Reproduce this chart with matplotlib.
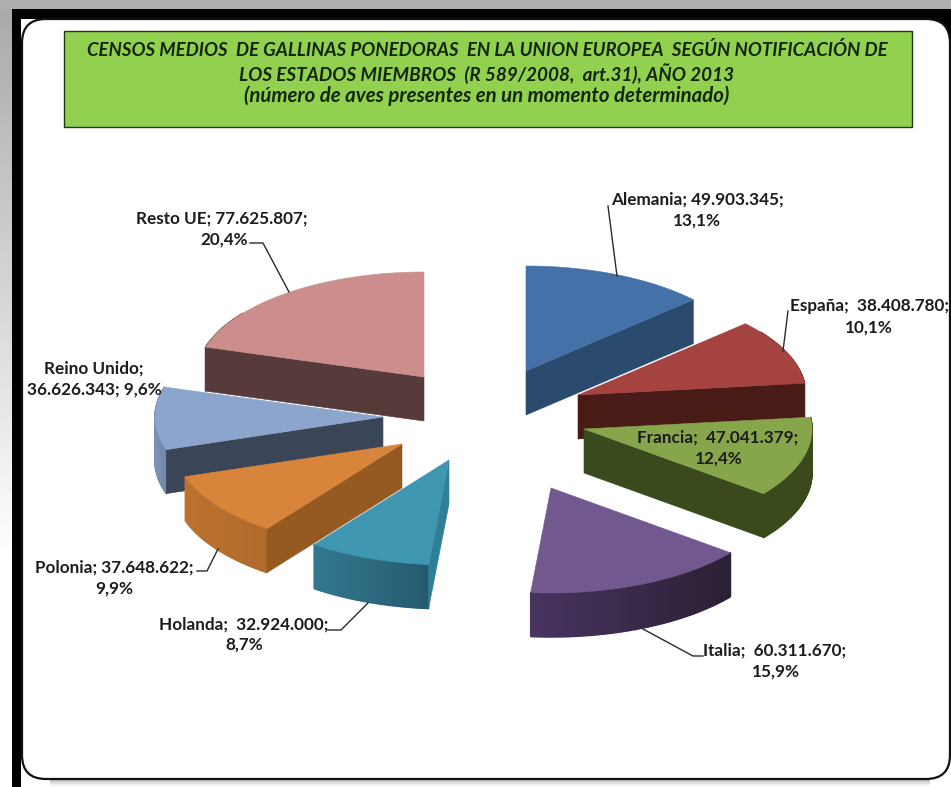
import numpy as np
import matplotlib
matplotlib.use("Agg")
import matplotlib.pyplot as plt
from matplotlib.patches import Polygon, Rectangle, FancyBboxPatch
from matplotlib.collections import PolyCollection
from matplotlib.colors import to_rgb

# ---- data ----
countries = ["Alemania", "España", "Francia", "Italia", "Holanda", "Polonia", "Reino Unido", "Resto UE"]
values = [49903345, 38408780, 47041379, 60311670, 32924000, 37648622, 36626343, 77625807]
pct_labels = ["13,1%", "10,1%", "12,4%", "15,9%", "8,7%", "9,9%", "9,6%", "20,4%"]
value_labels = ["49.903.345", "38.408.780", "47.041.379", "60.311.670", "32.924.000", "37.648.622", "36.626.343", "77.625.807"]
title_lines = [
    "CENSOS MEDIOS  DE GALLINAS PONEDORAS  EN LA UNION EUROPEA  SEGÚN NOTIFICACIÓN DE",
    "LOS ESTADOS MIEMBROS  (R 589/2008,  art.31), AÑO 2013",
    "(número de aves presentes en un momento determinado)",
]
# ---- style ----
top_colors = ["#4472A8", "#A54341", "#87A64B", "#71588F", "#3F96B0", "#D9843B", "#8CA5CD", "#CC8E8C"]
face_colors = ["#2A4A6E", "#481B17", "#3A4A1C", "#2E2239", "#2F7F97", "#955A22", "#3B4558", "#573A3A"]
wall_left = ["#2A4A6E", "#7A2A28", "#3A4A1C", "#47345F", "#33788F", "#BC7230", "#7B93B8", "#573A3A"]
wall_right = ["#2A4A6E", "#7A2A28", "#3A4A1C", "#2B2035", "#255A6E", "#B06A2C", "#6F86A9", "#573A3A"]
apex = [(526, 371), (578, 395), (584, 429), (551, 488), (449, 460), (402, 444), (383, 417), (424, 377)]
draw_order = [7, 0, 1, 2, 6, 5, 4, 3]
RX, RY, DEPTH = 228, 105, 44

fig = plt.figure(figsize=(9.51, 7.87), dpi=100)
ax = fig.add_axes([0, 0, 1, 1])
ax.axis("off")

# page background
ax.add_patch(Rectangle((0, 0), 951, 787, fc="white", ec="none", zorder=0))
grad = np.linspace(0, 1, 256)[:, None]
ax.imshow(0.66 + 0.34 * np.clip(grad * 1.4, 0, 1), extent=(0, 12, 787, 0), cmap="gray", vmin=0, vmax=1,
          aspect="auto", zorder=0.5)
ax.set_xlim(0, 951)
ax.set_ylim(787, 0)
ax.add_patch(Rectangle((0, 0), 951, 9, fc="#AFAFAF", ec="none", zorder=1))
ax.add_patch(Rectangle((12, 9), 939, 9.5, fc="black", ec="none", zorder=1))
ax.add_patch(Rectangle((12, 9), 9, 778, fc="black", ec="none", zorder=1))
ax.add_patch(Rectangle((925, 9), 26, 30, fc="black", ec="none", zorder=1))

# card with soft shadow
for a, dy in zip([0.05, 0.07, 0.10], [6, 4, 2]):
    ax.add_patch(Rectangle((50, 770), 880, 10 + dy, fc="black", alpha=a, ec="none", zorder=1.5))
ax.add_patch(FancyBboxPatch((22, 19), 928, 760, boxstyle="round,pad=0,rounding_size=24",
                            fc="white", ec="#111111", lw=1.6, zorder=2))

# title box
ax.add_patch(Rectangle((63.5, 30.5), 848, 96, fc="#92D04F", ec="#1F3A10", lw=1.0, zorder=3))
for txt, y, fs in zip(title_lines, [50, 73.5, 96], [13.45, 13.6, 14.7]):
    ax.text(487, y, txt, ha="center", va="center", family="Lato", weight="bold", style="italic",
            fontsize=fs, color="#14260C", zorder=4)


def ell(cx, cy, ang):
    return cx + RX * np.sin(ang), cy - RY * np.cos(ang)


fractions = np.array(values) / sum(values)
edges = np.concatenate([[0], np.cumsum(fractions)]) * 2 * np.pi

for i in draw_order:
    cx, cy = apex[i]
    a0, a1 = edges[i], edges[i + 1]
    zo = 5 + draw_order.index(i)
    ts = np.linspace(a0, a1, 61)
    xs, ys = ell(cx, cy, ts)
    # outer wall as shaded strips (the back of the rim is hidden anyway)
    verts, cols = [], []
    c0, c1 = np.array(to_rgb(wall_left[i])), np.array(to_rgb(wall_right[i]))
    xmin, xmax = xs.min(), xs.max()
    for k in range(len(ts) - 1):
        mid = 0.5 * (ts[k] + ts[k + 1])
        if np.cos(mid) > 0 and abs(np.sin(mid)) < 0.8:
            continue
        verts.append([(xs[k], ys[k]), (xs[k + 1], ys[k + 1]), (xs[k + 1], ys[k + 1] + DEPTH), (xs[k], ys[k] + DEPTH)])
        f = (0.5 * (xs[k] + xs[k + 1]) - xmin) / max(xmax - xmin, 1)
        cols.append(c0 + (c1 - c0) * f)
    if verts:
        ax.add_collection(PolyCollection(verts, facecolors=cols, edgecolors=cols, linewidths=1.0, zorder=zo))
    # radial faces: only those turned towards the viewer
    for a, visible in ((a0, np.sin(a0) < 0), (a1, np.sin(a1) > 0)):
        if not visible:
            continue
        x, y = ell(cx, cy, a)
        ax.add_patch(Polygon([(cx, cy), (x, y), (x, y + DEPTH), (cx, cy + DEPTH)], closed=True,
                             fc=face_colors[i], ec=face_colors[i], lw=0.4, zorder=zo + 0.1))
    # top surface
    ax.add_patch(Polygon(np.vstack([[cx, cy], np.column_stack([xs, ys])]), closed=True,
                         fc=top_colors[i], ec=top_colors[i], lw=0.4, zorder=zo + 0.2))

# labels: text line 1, line 2, anchor x, y values
lab_kw = dict(family="Lato", weight="bold", fontsize=12.3, color="#1C1C1C", zorder=30, ha="center", va="center")
label_pos = {
    0: (697, 200, 697, 221, "{n}; {v};", "{p}"),
    1: (869, 306, 869, 328, "{n};  {v};", "{p}"),
    2: (718, 438, 719, 459, "{n};  {v};", "{p}"),
    3: (775, 651, 776, 672, "{n};  {v};", "{p}"),
    4: (244, 625, 244, 645, "{n};  {v};", "{p}"),
    5: (114, 568, 114, 589, "{n}; {v};", "{p}"),
    6: (94, 369, 94, 390, "{n};", "{v}; {p}"),
    7: (222, 219, 224, 240, "{n}; {v};", "{p}"),
}
for i, (x1, y1, x2, y2, f1, f2) in label_pos.items():
    d = dict(n=countries[i], v=value_labels[i], p=pct_labels[i])
    ax.text(x1, y1, f1.format(**d), **lab_kw)
    ax.text(x2, y2, f2.format(**d), **lab_kw)

# leader lines
leaders = [
    [(608, 206), (617, 276)],
    [(788, 311), (783, 351)],
    [(643, 629), (693, 656), (703, 656)],
    [(368, 603), (341, 630), (328, 630)],
    [(218, 549), (207, 571), (197, 571)],
    [(250, 243), (263, 243), (289, 292)],
]
for pts in leaders:
    p = np.array(pts)
    ax.plot(p[:, 0], p[:, 1], color="#2A2A2A", lw=1.0, zorder=29)

fig.savefig("out.png", dpi=100)
